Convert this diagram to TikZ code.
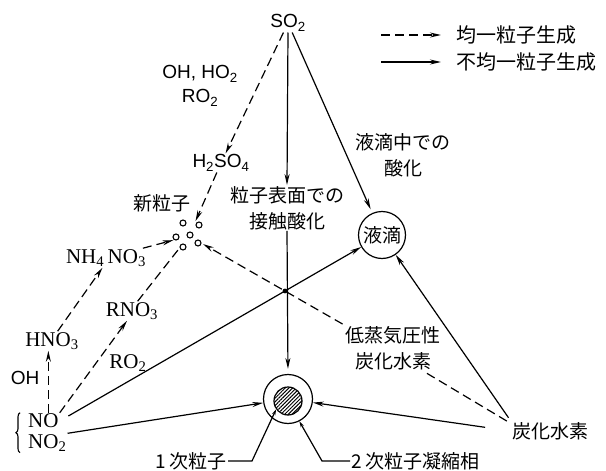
\documentclass[tikz,border=0pt]{standalone}
\usepackage{fontspec}
\setmainfont{Liberation Sans}
\newfontfamily\jpfont{Noto Sans CJK JP}
\newfontfamily\serfont{Liberation Serif}
\usetikzlibrary{arrows.meta,patterns.meta,decorations.pathreplacing,intersections}

\tikzset{
	jp/.style={font=\jpfont\fontsize{19}{26}\selectfont, align=center, inner sep=1pt},
	chem/.style={font=\fontsize{19}{24}\selectfont, align=center, inner sep=1pt},
	nox/.style={font=\serfont\fontsize{21}{24}\selectfont, inner sep=1pt},
	hom/.style={line width=1.2pt, dash pattern=on 9pt off 5pt, -{Stealth[length=11pt,width=5pt]}},
	het/.style={line width=1.2pt, -{Stealth[length=11pt,width=5pt]}},
	lead/.style={line width=1.2pt, -{Stealth[length=6pt,width=3.5pt]}}
}

\begin{document}
\begin{tikzpicture}[x=1pt, y=-1pt]
	\useasboundingbox (0,0) rectangle (606,471);

	% legend
	\node [jp, anchor=west, font=\jpfont\fontsize{20}{24}\selectfont] (homtxt) at (455,35) {均一粒子生成};
	\node [jp, anchor=west, font=\jpfont\fontsize{20}{24}\selectfont] (hettxt) at (455,62) {不均一粒子生成};
	\draw [hom] ([xshift=-74pt]homtxt.west) -- ([xshift=-14pt]homtxt.west);
	\draw [het] ([xshift=-74pt]hettxt.west) -- ([xshift=-14pt]hettxt.west);

	% species
	\node [chem] (so2) at (288,23) {SO\textsubscript{2}};
	\node [chem] (oxid) at (200,86) {OH, HO\textsubscript{2}\\RO\textsubscript{2}};
	\node [chem] (h2so4) at (221,163) {H\textsubscript{2}SO\textsubscript{4}};
	\node [jp] (newlbl) at (162,203) {新粒子};
	\node [circle, minimum size=32pt, inner sep=0pt] (newp) at (189,236) {};
	\foreach \px/\py in {183/223, 199/225, 176/237, 190/235, 183/247, 198/243}
		\draw [line width=1.1pt] (\px,\py) circle (3pt);
	\node [nox] (nh4no3) at (106,258) {NH\textsubscript{4}\,NO\textsubscript{3}};
	\node [nox] (rno3) at (132,311) {RNO\textsubscript{3}};
	\node [nox] (hno3) at (52,341) {HNO\textsubscript{3}};
	\node [chem] (ohlbl) at (25,378) {OH};
	\node [nox] (ro2lbl) at (128,363) {RO\textsubscript{2}};
	\node [nox, anchor=west] (no) at (27,421) {NO};
	\node [nox, anchor=west] (no2) at (27,443) {NO\textsubscript{2}};
	\draw [line width=1.1pt, decorate, decoration={brace, amplitude=4pt}]
		([xshift=-7pt]no2.south west) -- ([xshift=-7pt]no.north west);

	\node [jp] (surf) at (287,208) {粒子表面での\\接触酸化};
	\node [jp] (droplbl) at (403,155) {液滴中での\\酸化};
	\node [jp, circle, draw, line width=1.2pt, minimum size=47pt, inner sep=0pt] (drop) at (382,235) {液滴};
	\node [jp] (lvp) at (393,348) {低蒸気圧性\\炭化水素};
	\node [jp] (hc) at (550,431) {炭化水素};

	% particle
	\node [circle, draw, line width=1.2pt, minimum size=49pt, inner sep=0pt] (ring) at (288,399) {};
	\node [circle, draw, line width=1.2pt, minimum size=28pt, inner sep=0pt,
		pattern={Lines[angle=45, distance=2.6pt, line width=1pt]}] (core) at (288,401) {};
	\node [jp, anchor=east] (p1) at (228,461) {1 次粒子};
	\node [jp, anchor=west] (p2) at (350,461) {2 次粒子凝縮相};

	% homogeneous
	\draw [hom] (so2) -- (h2so4);
	\draw [hom] (h2so4) -- (newp);
	\draw [hom] (nh4no3) -- (newp);
	\draw [hom, -] (rno3.60) -- (newp);
	\draw [hom] ([xshift=5pt]no.north) -- ([xshift=5pt]no.north |- hno3.south);
	\draw [hom] (hno3.60) -- (nh4no3.250);
	\draw [hom] (no.north east) -- ([xshift=-5pt]rno3.south);
	\draw [hom, -] ([xshift=-4pt]hc.north west) -- ([xshift=30pt]lvp.south);
	\draw [hom, name path=lvpline, shorten <=2pt] (lvp.north west) -- (newp);

	% heterogeneous
	\draw [het] (so2.south) -- (surf.north);
	\draw [het, shorten >=5pt] (surf.south) -- (ring.north);
	\draw [het, shorten >=4pt] (so2) -- (drop);
	\draw [het, name path=nodrop, shorten <=10pt] (no.east) -- (drop);
	\draw [het] (no2.north east) -- (ring);
	\draw [het, shorten <=4pt] (hc.north west) -- (drop);
	\draw [het, shorten <=26pt] (hc.west) -- (ring);
	\fill [name intersections={of=nodrop and lvpline}] (intersection-1) circle (2.4pt);

	% leaders
	\draw [lead] (p1.east) -- ++(24,0) -- (core.215);
	\draw [lead] (p2.west) -- ++(-28,0) -- (ring.297);
\end{tikzpicture}
\end{document}
